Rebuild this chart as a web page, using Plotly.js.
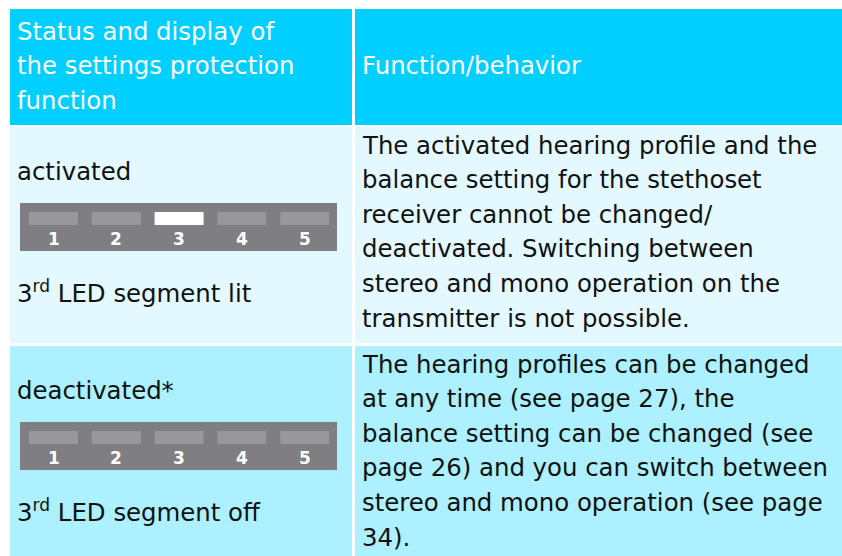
<!DOCTYPE html>
<html>
<head>
<meta charset="utf-8">
<script src="https://cdn.plot.ly/plotly-3.0.1.min.js"></script>
<style>html,body{margin:0;padding:0;background:#fff;}#chart{width:842px;height:556px;}</style>
</head>
<body>
<div id="chart"></div>
<script>
// ---- content ----
const headerLeft = ["Status and display of", "the settings protection", "function"];
const headerRight = ["Function/behavior"];
const statusLabels = ["activated", "deactivated*"];
const ledCaptions = ["3<sup>rd</sup> LED segment lit", "3<sup>rd</sup> LED segment off"];
const ledNumbers = ["1", "2", "3", "4", "5"];
const litSegment = [3, 0];
const functionLines1 = [
  "The activated hearing profile and the",
  "balance setting for the stethoset",
  "receiver cannot be changed/",
  "deactivated. Switching between",
  "stereo and mono operation on the",
  "transmitter is not possible."
];
const functionLines2 = [
  "The hearing profiles can be changed",
  "at any time (see page 27), the",
  "balance setting can be changed (see",
  "page 26) and you can switch between",
  "stereo and mono operation (see page",
  "34)."
];
const functionLines = [functionLines1, functionLines2];

// ---- layout geometry ----
const W = 842, H = 556;
const colL = [10, 352], colR = [355, 842];
const headerY = [9, 125];
const rowsY = [[127, 343], [346, 556]];
const rowFill = ['#E4F9FF', '#ADF0FF'];
const headFill = '#00CFFF';
const FONT = 'DejaVu Sans, sans-serif';
const FS = 24.4;
const LH = 34.6;

const shapes = [];
const annotations = [];
function rect(x0, x1, y0, y1, color) {
  shapes.push({type: 'rect', xref: 'x', yref: 'y', x0, x1, y0, y1, fillcolor: color, line: {width: 0}, layer: 'below'});
}
function text(t, x, y, color, size, bold) {
  annotations.push({xref: 'x', yref: 'y', x, y, text: bold ? '<b>' + t + '</b>' : t, showarrow: false,
    xanchor: bold ? 'center' : 'left', yanchor: 'middle', borderpad: 0,
    font: {family: FONT, size: size, color: color}});
}

// header
rect(colL[0], colL[1], headerY[0], headerY[1], headFill);
rect(colR[0], colR[1], headerY[0], headerY[1], headFill);
headerLeft.forEach((t, i) => text(t, colL[0] + 6, 31 + i * LH, '#ffffff', FS));
headerRight.forEach((t, i) => text(t, colR[0] + 6, 65 + i * LH, '#ffffff', FS));

// body rows
rowsY.forEach((ry, r) => {
  rect(colL[0], colL[1], ry[0], ry[1], rowFill[r]);
  rect(colR[0], colR[1], ry[0], ry[1], rowFill[r]);
  const top = ry[0];
  text(statusLabels[r], colL[0] + 6, top + 44, '#111111', FS);
  // LED panel
  const pTop = top + 76;
  rect(20, 337, pTop, pTop + 48, '#7F7E83');
  ledNumbers.forEach((n, i) => {
    const sx = 29 + i * 62.8;
    const lit = (i + 1) === litSegment[r];
    rect(sx, sx + 49, pTop + 9, pTop + 22, lit ? '#FFFFFF' : '#98979C');
    text(n, sx + 24.5, pTop + 36, '#FFFFFF', 17, true);
  });
  text(ledCaptions[r], colL[0] + 6, top + 165, '#111111', FS);
  functionLines[r].forEach((t, i) => text(t, colR[0] + 6, top + 18 + i * LH, '#111111', FS));
});

const layout = {
  width: W, height: H,
  margin: {l: 0, r: 0, t: 0, b: 0, pad: 0},
  paper_bgcolor: '#ffffff', plot_bgcolor: '#ffffff',
  xaxis: {range: [0, W], visible: false, fixedrange: true},
  yaxis: {range: [H, 0], visible: false, fixedrange: true},
  shapes, annotations, showlegend: false
};
Plotly.newPlot('chart', [{x: [], y: [], type: 'scatter', mode: 'markers', hoverinfo: 'skip'}], layout, {staticPlot: true, displayModeBar: false});
</script>
</body>
</html>
